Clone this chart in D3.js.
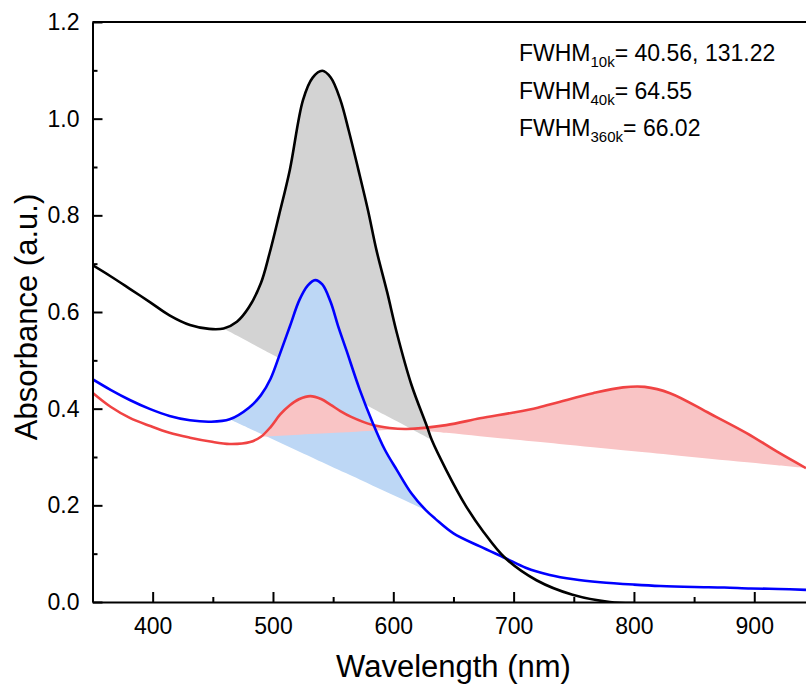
<!DOCTYPE html>
<html>
<head>
<meta charset="utf-8">
<script src="https://cdn.jsdelivr.net/npm/d3@7"></script>
<style>
  body { margin: 0; background: #fff; }
  svg { font-family: Arial, "Liberation Sans", sans-serif; }
</style>
</head>
<body>
<svg></svg>
<script>
// wavelength (nm) / absorbance pairs
var blackWl  = [350, 365, 381, 398, 414, 431, 447, 459, 470, 480, 490, 497, 505, 514, 525, 533, 541, 548, 556, 563, 571, 579, 586, 595, 603, 615, 628, 632, 644, 660, 675, 693, 719, 749, 780, 800];
var blackAbs = [0.697, 0.674, 0.648, 0.620, 0.593, 0.573, 0.565, 0.566, 0.580, 0.610, 0.660, 0.720, 0.800, 0.894, 1.039, 1.085, 1.099, 1.085, 1.039, 0.975, 0.894, 0.810, 0.728, 0.640, 0.556, 0.450, 0.363, 0.335, 0.273, 0.200, 0.145, 0.091, 0.045, 0.015, 0.000, -0.002];

var blueWl  = [350, 365, 381, 398, 414, 431, 448, 464, 480, 490, 498, 506, 514, 522, 529, 535, 541, 548, 554, 561, 572, 583, 593, 603, 615, 627, 635, 650, 672, 693, 710, 730, 750, 772, 800, 822, 850, 875, 897, 920, 943];
var blueAbs = [0.461, 0.439, 0.418, 0.399, 0.385, 0.376, 0.373, 0.378, 0.402, 0.428, 0.462, 0.515, 0.570, 0.625, 0.655, 0.666, 0.657, 0.620, 0.572, 0.521, 0.440, 0.370, 0.315, 0.273, 0.225, 0.190, 0.172, 0.142, 0.115, 0.091, 0.071, 0.056, 0.047, 0.041, 0.036, 0.033, 0.031, 0.030, 0.028, 0.027, 0.025];

var redWl  = [350, 365, 381, 398, 414, 431, 448, 464, 481, 490, 498, 506, 514, 522, 531, 540, 548, 556, 565, 583, 597, 611, 644, 672, 700, 720, 738, 766, 791, 809, 830, 863, 894, 919, 943];
var redAbs = [0.433, 0.404, 0.381, 0.364, 0.350, 0.340, 0.332, 0.327, 0.331, 0.342, 0.362, 0.388, 0.407, 0.420, 0.426, 0.420, 0.408, 0.395, 0.383, 0.366, 0.360, 0.358, 0.366, 0.380, 0.392, 0.402, 0.414, 0.432, 0.444, 0.445, 0.432, 0.390, 0.349, 0.311, 0.277];

// straight baselines under the peaks: [wavelength, absorbance] at each end
var blackBase = [[459, 0.566], [632, 0.335]];
var blueBase  = [[464, 0.378], [627, 0.190]];
var redBase1  = [[490, 0.342], [611, 0.358]];
var redBase2  = [[611, 0.358], [943, 0.277]];

var xTicks = [400, 500, 600, 700, 800, 900];
var xMinor = [450, 550, 650, 750, 850];
var yTicks = [0, 0.2, 0.4, 0.6, 0.8, 1.0, 1.2];
var yMinor = [0.1, 0.3, 0.5, 0.7, 0.9, 1.1];

var fwhmSub = ['10k', '40k', '360k'];
var fwhmVal = ['= 40.56, 131.22', '= 64.55', '= 66.02'];

function pairs(wl, ab) {
    return wl.map(function(w, i) { return { wl: w, ab: ab[i] }; });
}

document.addEventListener("DOMContentLoaded", function() {
    drawChart();
});

function drawChart() {
    var svgWidth = 806, svgHeight = 684;
    var margin = { top: 22, left: 92.5 };
    var width = svgWidth - margin.left;
    var height = 580;

    var svg = d3.select('svg')
        .attr('width', svgWidth)
        .attr('height', svgHeight);

    var g = svg.append('g')
        .attr('transform', 'translate(' + margin.left + ',' + margin.top + ')');

    var x = d3.scaleLinear().domain([350, 943]).range([0, width]);
    var y = d3.scaleLinear().domain([0, 1.2]).range([height, 0]);

    svg.append('defs').append('clipPath')
        .attr('id', 'plotclip')
        .append('rect')
        .attr('width', width)
        .attr('height', height);

    var plot = g.append('g').attr('clip-path', 'url(#plotclip)');

    var smooth = d3.curveCatmullRom.alpha(0.5);

    var line = d3.line()
        .curve(smooth)
        .x(function(d) { return x(d.wl); })
        .y(function(d) { return y(d.ab); });

    function fillPeak(data, base, color) {
        var b = d3.scaleLinear().domain([base[0][0], base[1][0]]).range([base[0][1], base[1][1]]);
        var pts = data.filter(function(d) { return d.wl >= base[0][0] && d.wl <= base[1][0]; });
        var area = d3.area()
            .curve(smooth)
            .x(function(d) { return x(d.wl); })
            .y0(function(d) { return y(b(d.wl)); })
            .y1(function(d) { return y(d.ab); });
        plot.append('path')
            .datum(pts)
            .attr('fill', color)
            .attr('d', area);
    }

    var black = pairs(blackWl, blackAbs);
    var blue = pairs(blueWl, blueAbs);
    var red = pairs(redWl, redAbs);

    fillPeak(black, blackBase, '#d3d3d3');
    fillPeak(blue, blueBase, '#bdd7f5');
    fillPeak(red, redBase1, '#f9c4c5');
    fillPeak(red, redBase2, '#f9c4c5');

    [[red, '#f04343'], [blue, '#0000ff'], [black, '#000000']].forEach(function(s) {
        plot.append('path')
            .datum(s[0])
            .attr('fill', 'none')
            .attr('stroke', s[1])
            .attr('stroke-width', 2.6)
            .attr('stroke-linejoin', 'round')
            .attr('d', line);
    });

    // axes, ticks pointing inward
    g.append('g')
        .attr('transform', 'translate(0,' + height + ')')
        .call(d3.axisBottom(x).tickValues(xTicks).tickSize(-10).tickSizeOuter(0).tickPadding(16));
    g.append('g')
        .attr('transform', 'translate(0,' + height + ')')
        .call(d3.axisBottom(x).tickValues(xMinor).tickSize(-5).tickSizeOuter(0).tickFormat(''))
        .select('.domain').remove();

    g.append('g')
        .call(d3.axisLeft(y).tickValues(yTicks).tickSize(-10).tickSizeOuter(0).tickPadding(13)
            .tickFormat(d3.format('.1f')));
    g.append('g')
        .call(d3.axisLeft(y).tickValues(yMinor).tickSize(-5).tickSizeOuter(0).tickFormat(''))
        .select('.domain').remove();

    g.selectAll('.domain, .tick line')
        .attr('stroke', '#000')
        .attr('stroke-width', 2);
    g.selectAll('.tick text')
        .attr('fill', '#000')
        .style('font-size', '23px')
        .style('font-family', 'Arial, "Liberation Sans", sans-serif');

    // top frame
    g.append('line')
        .attr('x1', 0).attr('x2', width)
        .attr('y1', 0).attr('y2', 0)
        .attr('stroke', '#000')
        .attr('stroke-width', 2);

    svg.append('text')
        .attr('x', 453.5)
        .attr('y', 677)
        .attr('text-anchor', 'middle')
        .style('font-size', '31px')
        .text('Wavelength (nm)');

    svg.append('text')
        .attr('transform', 'translate(36.5,317) rotate(-90)')
        .attr('text-anchor', 'middle')
        .style('font-size', '31px')
        .text('Absorbance (a.u.)');

    var notes = svg.append('g');
    fwhmSub.forEach(function(s, i) {
        var t = notes.append('text')
            .attr('x', 519)
            .attr('y', 61 + i * 37.5)
            .style('font-size', '23px');
        t.append('tspan').text('FWHM');
        t.append('tspan').attr('dy', 6).style('font-size', '15px').text(s);
        t.append('tspan').attr('dy', -6).text(fwhmVal[i]);
    });
}
</script>
</body>
</html>
